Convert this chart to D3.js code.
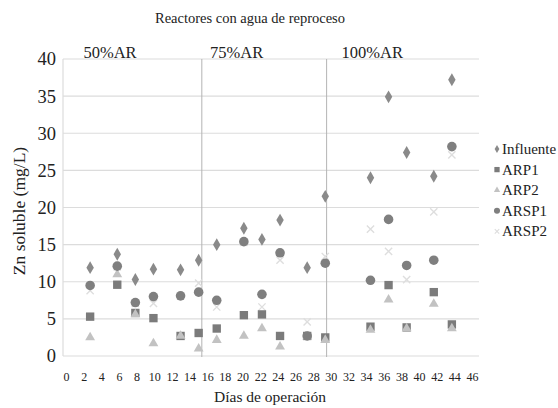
<!DOCTYPE html>
<html><head><meta charset="utf-8">
<script src="https://cdn.jsdelivr.net/npm/d3@7/dist/d3.min.js"></script>
<style>body{margin:0;background:#fff}svg,svg text{font-family:"Liberation Serif","Times New Roman",serif !important}</style>
</head><body><svg id="c" width="558" height="408"></svg>
<script>
const days = [3,6,8,10,13,15,17,20,22,24,27,29,34,36,38,41,43];
const influente = [11.9,13.7,10.3,11.7,11.6,12.9,15.0,17.2,15.7,18.3,11.9,21.5,24.0,34.9,27.4,24.2,37.2];
const arp1 = [5.3,9.6,5.8,5.1,2.7,3.1,3.7,5.5,5.6,2.7,2.7,2.5,3.95,9.55,3.85,8.6,4.25];
const arp2 = [2.5,11.0,5.6,1.7,2.7,1.0,2.15,2.7,3.7,1.25,2.6,2.15,3.5,7.6,3.7,7.0,3.7];
const arsp1 = [9.5,12.1,7.2,8.0,8.1,8.6,7.5,15.4,8.3,13.9,2.7,12.5,10.2,18.4,12.2,12.9,28.2];
const arsp2 = [8.8,12.0,7.1,7.1,8.1,9.8,6.6,15.3,6.6,12.9,4.6,13.4,17.1,14.1,10.3,19.4,27.1];
const seriesNames = ["Influente","ARP1","ARP2","ARSP1","ARSP2"];
const xTicks = d3.range(0,47,2);
const yTicks = d3.range(0,41,5);
const phaseLabels = ["50%AR","75%AR","100%AR"];
const phaseCenters = [5.2,19.2,34.2];
const phaseBreaks = [15.35,29.15];

const svg = d3.select("#c");
const x = d3.scaleLinear().domain([0,46]).range([63,479]);
const xLab = d3.scaleLinear().domain([0,46]).range([66,472]);
const y = d3.scaleLinear().domain([0,40]).range([356,59]);

svg.append("g").selectAll("line").data(yTicks).join("line")
  .attr("x1",x(0)).attr("x2",x(46)).attr("y1",d=>y(d)).attr("y2",d=>y(d))
  .attr("stroke","#dcdcdc").attr("stroke-width",1.2);
svg.append("line").attr("x1",x(0)).attr("x2",x(0)).attr("y1",y(40)).attr("y2",y(0))
  .attr("stroke","#dcdcdc").attr("stroke-width",1.2);
svg.append("g").selectAll("line").data(phaseBreaks).join("line")
  .attr("x1",d=>x(d)).attr("x2",d=>x(d)).attr("y1",y(40)).attr("y2",y(0)+1)
  .attr("stroke","#b4b4b4").attr("stroke-width",1);

const yAxis = d3.axisLeft(y).tickValues(yTicks).tickSize(0).tickPadding(0);
const gy = svg.append("g").attr("transform","translate(56,0)").call(yAxis);
gy.attr("font-family",null);
gy.select(".domain").remove();
gy.selectAll("text").attr("font-size",18.5).attr("fill","#222");

const xAxis = d3.axisBottom(xLab).tickValues(xTicks).tickSize(0).tickPadding(0);
const gx = svg.append("g").attr("transform","translate(0,372)").call(xAxis);
gx.attr("font-family",null);
gx.select(".domain").remove();
gx.selectAll("text").attr("font-size",12).attr("fill","#222");

svg.append("text").attr("x",250).attr("y",23).attr("text-anchor","middle").attr("font-size",14.5).attr("fill","#222").text("Reactores con agua de reproceso");
svg.append("g").selectAll("text").data(phaseLabels).join("text")
  .attr("x",(d,i)=>x(phaseCenters[i])).attr("y",58).attr("text-anchor","middle")
  .attr("font-size",16.5).attr("fill","#222").text(d=>d);
svg.append("text").attr("x",270).attr("y",402).attr("text-anchor","middle").attr("font-size",15.5).attr("fill","#222").text("Días de operación");
svg.append("text").attr("transform","translate(25,211) rotate(-90)").attr("text-anchor","middle").attr("font-size",17.5).attr("fill","#222").text("Zn soluble (mg/L)");

const styles = [
  {vals:influente, type:d3.symbolDiamond, size:48, fill:"#8a8a8a", stroke:"none"},
  {vals:arp1, type:d3.symbolSquare, size:70, fill:"#7b7b7b", stroke:"none"},
  {vals:arp2, type:d3.symbolTriangle, size:42, fill:"#c2c2c2", stroke:"none"},
  {vals:arsp1, type:d3.symbolCircle, size:72, fill:"#7f7f7f", stroke:"none"},
  {vals:arsp2, type:d3.symbolTimes, size:36, fill:"none", stroke:"#dedede"}
];
const drawOrder = [4,0,1,2,3];
drawOrder.forEach(si=>{
  const s = styles[si];
  svg.append("g").selectAll("path").data(days.map((d,i)=>({d,v:s.vals[i]}))).join("path")
    .attr("transform",p=>`translate(${x(p.d)},${y(p.v)})`)
    .attr("d",d3.symbol(s.type,s.size)())
    .attr("fill",s.fill).attr("stroke",s.stroke).attr("stroke-width",s.stroke==="none"?0:1.4);
});

const lg = svg.append("g");
seriesNames.forEach((n,i)=>{
  const s = styles[i];
  const ly = 149 + i*20.6;
  lg.append("path").attr("transform",`translate(497,${ly})`).attr("d",d3.symbol(s.type,s.size*0.4)())
    .attr("fill",s.fill).attr("stroke",s.stroke).attr("stroke-width",s.stroke==="none"?0:1.2);
  lg.append("text").attr("x",502).attr("y",ly+5).attr("font-size",15).attr("fill","#222").text(n);
});
</script></body></html>
